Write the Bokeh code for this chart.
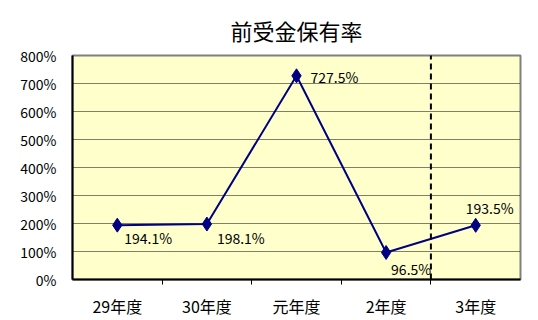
from bokeh.plotting import figure
from bokeh.models import (Range1d, FixedTicker, Arrow, ColumnDataSource,
                          PrintfTickFormatter)
from bokeh.core.properties import value
from bokeh.embed import file_html
from bokeh.resources import INLINE

title = "前受金保有率"
categories = ["29年度", "30年度", "元年度", "2年度", "3年度"]
rates = [194.1, 198.1, 727.5, 96.5, 193.5]
y_ticks = [0, 100, 200, 300, 400, 500, 600, 700, 800]
divider_after = 4  # dashed line between 2年度 and 3年度

# label offsets (style)
label_dx = [7, 10, 14, 5, -10]
label_dy = [13, 14, 1, 17, -17]

FONT = "Noto Sans CJK JP"

xs = [i + 0.5 for i in range(len(categories))]
src = ColumnDataSource(dict(
    x=xs, y=rates,
    txt=[f"{v:.1f}%" for v in rates],
    dx=label_dx, dy=label_dy,
))

p = figure(width=538, height=320, output_backend="svg", toolbar_location=None,
           x_range=Range1d(0, len(categories)), y_range=Range1d(0, 800),
           min_border_left=72, min_border_right=18, min_border_top=55,
           min_border_bottom=41, title=title)
p.title.align = "center"
p.title.text_font = FONT
p.title.text_font_size = "22px"
p.title.text_font_style = "normal"
p.title.text_color = "black"
p.title.offset = -12
p.title.standoff = 20

p.border_fill_color = "white"
p.outline_line_color = "#808080"
p.outline_line_width = 2

# y axis
ya = p.yaxis[0]
ya.ticker = FixedTicker(ticks=y_ticks)
ya.formatter = PrintfTickFormatter(format="%d%%")
ya.major_tick_line_color = None
ya.minor_tick_line_color = None
ya.axis_line_color = "black"
ya.axis_line_width = 2
ya.major_label_text_font = FONT
ya.major_label_text_font_size = "14px"
ya.major_label_text_color = "black"
ya.major_label_standoff = 10

# x axis
xa = p.xaxis[0]
xa.ticker = FixedTicker(ticks=xs, minor_ticks=list(range(1, len(categories))))
xa.major_label_overrides = {x: c for x, c in zip(xs, categories)}
xa.major_tick_line_color = None
xa.major_tick_out = 0
xa.major_tick_in = 0
xa.minor_tick_line_color = "black"
xa.minor_tick_out = 5
xa.minor_tick_in = 0
xa.axis_line_color = "black"
xa.axis_line_width = 2
xa.major_label_text_font = FONT
xa.major_label_text_font_size = "16px"
xa.major_label_text_color = "black"
xa.major_label_standoff = 9

p.xgrid.grid_line_color = None
p.ygrid.grid_line_color = "black"
p.ygrid.grid_line_dash = "1 1"
p.ygrid.grid_line_width = 1
p.ygrid.ticker = FixedTicker(ticks=y_ticks[1:-1])

# plot area fill
p.background_fill_color = "#FFFFCC"

# dashed divider
p.add_layout(Arrow(end=None, x_start=divider_after, y_start=0,
                   x_end=divider_after, y_end=823,
                   line_color="black", line_width=2, line_dash="6 4"))

p.line("x", "y", source=src, line_color="#000080", line_width=2)
p.scatter("x", "y", source=src, marker="diamond", size=14,
          fill_color="#000080", line_color="#000080")
p.text("x", "y", text="txt", source=src, x_offset="dx", y_offset="dy",
       text_font=value(FONT), text_font_size="14px", text_color="black",
       text_align="left", text_baseline="middle")

open("out.html", "w").write(file_html(p, INLINE))
